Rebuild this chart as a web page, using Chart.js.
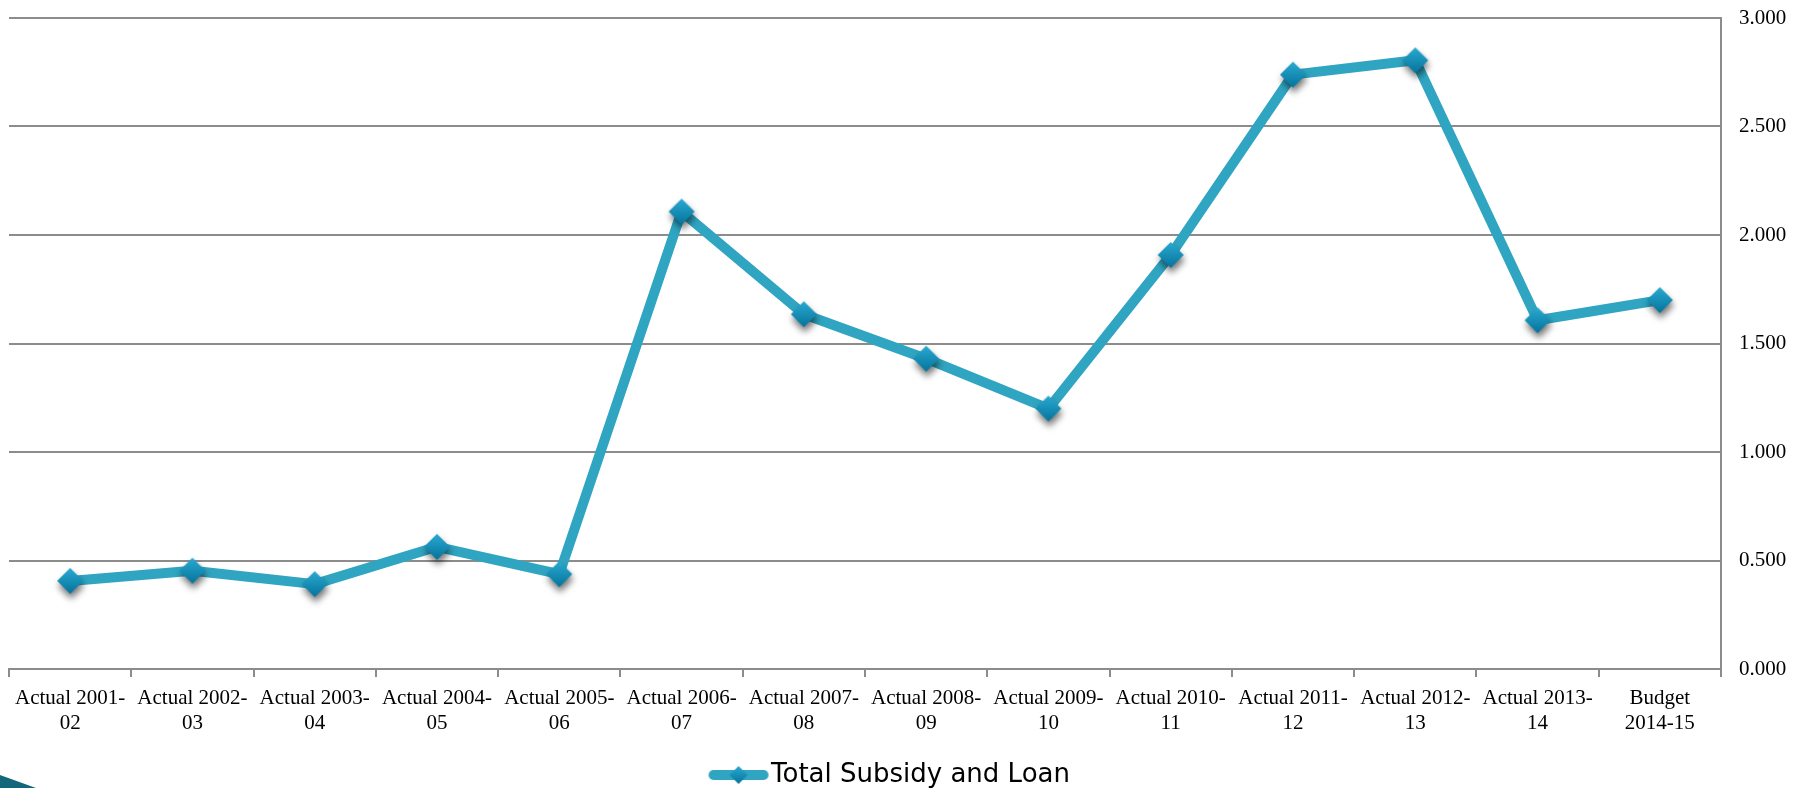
<!DOCTYPE html>
<html>
<head>
<meta charset="utf-8">
<title>Total Subsidy and Loan</title>
<script src="https://cdn.jsdelivr.net/npm/chart.js@4.4.0/dist/chart.umd.min.js"></script>
<style>
    html, body { margin: 0; padding: 0; background: #fff; }
    #wrap { position: relative; width: 1804px; height: 788px; }
    #corner {
        position: absolute; left: 0; bottom: 0; width: 36px; height: 13px;
        background: #12687a;
        clip-path: polygon(0 0, 100% 100%, 0 100%);
    }
</style>
</head>
<body>
<div id="wrap">
    <canvas id="chart"></canvas>
    <div id="corner"></div>
</div>
<script>
// Chart data
const categories = [
    ['Actual 2001-', '02'], ['Actual 2002-', '03'], ['Actual 2003-', '04'],
    ['Actual 2004-', '05'], ['Actual 2005-', '06'], ['Actual 2006-', '07'],
    ['Actual 2007-', '08'], ['Actual 2008-', '09'], ['Actual 2009-', '10'],
    ['Actual 2010-', '11'], ['Actual 2011-', '12'], ['Actual 2012-', '13'],
    ['Actual 2013-', '14'], ['Budget', '2014-15']
];
const seriesName = 'Total Subsidy and Loan';
const subsidyLoan = [0.406, 0.453, 0.391, 0.563, 0.437, 2.108, 1.635, 1.430, 1.200, 1.908, 2.739, 2.805, 1.607, 1.700];
const yTickValues = [0, 0.5, 1, 1.5, 2, 2.5, 3];

// Theme colors
const COLORS = {
    line: '#2fa5c2',
    markerTop: '#2aaad2',
    markerBottom: '#05739b',
    grid: '#8c8c8c',
    text: '#000'
};

// Diamond marker with gradient (and optional drop shadow)
function makeMarker(half, shadow) {
    const pad = shadow ? 12 : 2;
    const size = half * 2 + pad * 2;
    const c = document.createElement('canvas');
    c.width = size;
    c.height = size;
    const ctx = c.getContext('2d');
    const m = size / 2;
    if (shadow) {
        ctx.shadowColor = 'rgba(0,0,0,0.55)';
        ctx.shadowBlur = 7;
        ctx.shadowOffsetX = 1;
        ctx.shadowOffsetY = 5;
    }
    const g = ctx.createLinearGradient(0, m - half, 0, m + half);
    g.addColorStop(0, COLORS.markerTop);
    g.addColorStop(1, COLORS.markerBottom);
    ctx.fillStyle = g;
    ctx.beginPath();
    ctx.moveTo(m, m - half);
    ctx.lineTo(m + half, m);
    ctx.lineTo(m, m + half);
    ctx.lineTo(m - half, m);
    ctx.closePath();
    ctx.fill();
    return c;
}

// Legend symbol: thick line with a diamond in the middle
function makeLegendMark() {
    const c = document.createElement('canvas');
    c.width = 64;
    c.height = 24;
    const ctx = c.getContext('2d');
    ctx.strokeStyle = COLORS.line;
    ctx.lineWidth = 10;
    ctx.lineCap = 'round';
    ctx.beginPath();
    ctx.moveTo(7, 12);
    ctx.lineTo(57, 12);
    ctx.stroke();
    const d = makeMarker(9, false);
    ctx.drawImage(d, 32 - d.width / 2, 12 - d.height / 2);
    return c;
}

const marker = makeMarker(13, true);
const legendMark = makeLegendMark();
const legendShift = { x: -12, y: 10 };

Chart.defaults.font.family = "'Liberation Serif', 'Times New Roman', serif";
Chart.defaults.color = COLORS.text;

new Chart(document.getElementById('chart'), {
    type: 'line',
    data: {
        labels: categories,
        datasets: [{
            label: seriesName,
            data: subsidyLoan,
            borderColor: COLORS.line,
            backgroundColor: COLORS.line,
            borderWidth: 10,
            borderJoinStyle: 'round',
            tension: 0,
            fill: false,
            pointStyle: marker,
            pointRadius: 12
        }]
    },
    options: {
        responsive: true,
        maintainAspectRatio: false,
        animation: false,
        layout: { autoPadding: false, padding: { left: 9, top: 18, right: 0, bottom: 0 } },
        plugins: {
            legend: {
                position: 'bottom',
                labels: {
                    usePointStyle: true,
                    pointStyleWidth: 39,
                    padding: 3,
                    color: COLORS.text,
                    font: { family: "'DejaVu Sans', sans-serif", size: 26 },
                    generateLabels: chart => Chart.defaults.plugins.legend.labels.generateLabels(chart)
                        .map(item => ({ ...item, pointStyle: legendMark }))
                }
            },
            tooltip: { enabled: false }
        },
        scales: {
            x: {
                offset: true,
                grid: { offset: true, drawOnChartArea: false, color: COLORS.grid, lineWidth: 2, tickLength: 8 },
                border: { color: COLORS.grid, width: 2 },
                ticks: {
                    color: COLORS.text,
                    font: { size: 21, lineHeight: 1.2 },
                    padding: 9,
                    maxRotation: 0,
                    autoSkip: false
                },
                afterFit: s => {
                    s.height = 80;
                    s.paddingLeft = 0;
                    s.paddingRight = 0;
                }
            },
            y: {
                position: 'right',
                min: 0,
                max: 3,
                grid: { color: COLORS.grid, lineWidth: 2, drawTicks: false },
                border: { color: COLORS.grid, width: 2 },
                ticks: {
                    color: COLORS.text,
                    font: { size: 21 },
                    padding: 18,
                    callback: v => Number(v).toFixed(3)
                },
                afterBuildTicks: s => { s.ticks = yTickValues.map(v => ({ value: v })); },
                afterFit: s => {
                    s.width = 83;
                    s.paddingTop = 0;
                    s.paddingBottom = 0;
                }
            }
        }
    },
    plugins: [{
        id: 'legendShift',
        afterLayout(chart) {
            const lg = chart.legend;
            lg.left += legendShift.x;
            lg.right += legendShift.x;
            lg.top += legendShift.y;
            lg.bottom += legendShift.y;
        }
    }]
});
</script>
</body>
</html>
